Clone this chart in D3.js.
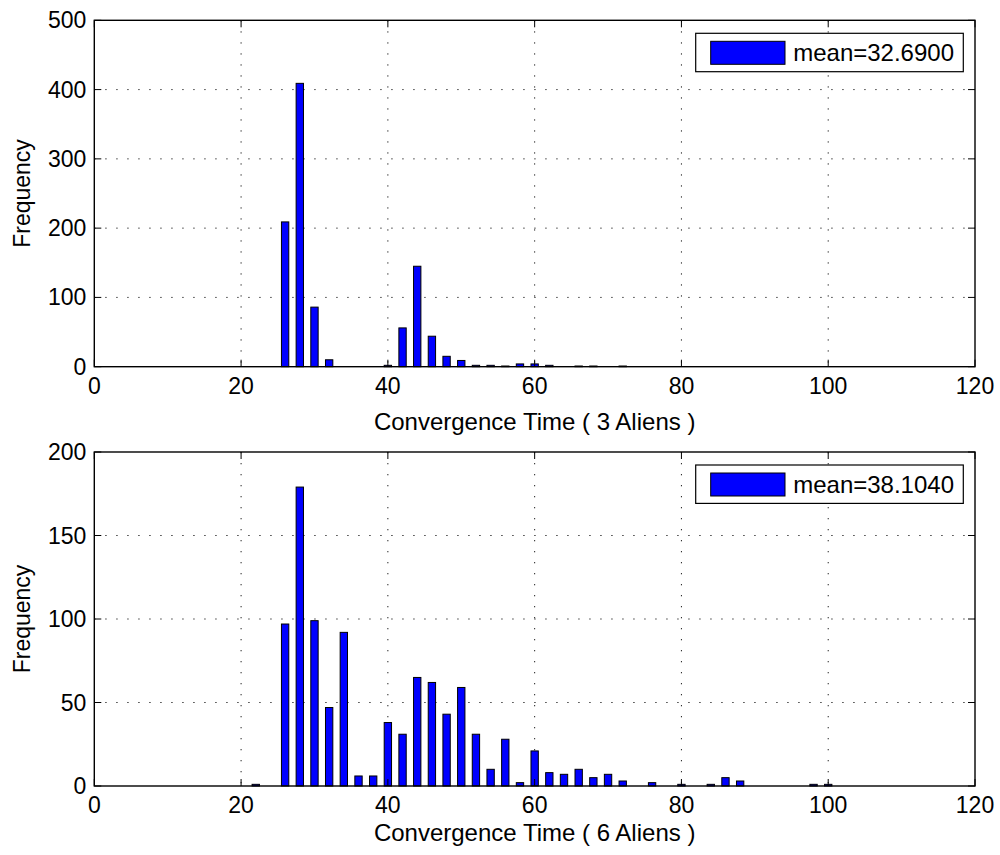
<!DOCTYPE html>
<html>
<head>
<meta charset="utf-8">
<script src="https://cdn.jsdelivr.net/npm/d3@7"></script>
<style>
    body { margin: 0; background: #fff; }
    svg { display: block; }
    text { font-family: "Liberation Sans", Arial, Helvetica, sans-serif; fill: #000; }
</style>
</head>
<body>
<div class="chart"></div>
<script>
// histogram bins (bin centre) and counts
var bins3 = [26, 28, 30, 32, 40, 42, 44, 46, 48, 50, 52, 54, 56, 58, 60, 62, 66, 68, 72];
var freq3 = [209, 409, 86, 10, 2, 56, 145, 44, 15, 9, 2, 2, 1, 4, 4, 2, 1, 1, 1];

var bins6 = [22, 26, 28, 30, 32, 34, 36, 38, 40, 42, 44, 46, 48, 50, 52, 54, 56, 58, 60, 62,
             64, 66, 68, 70, 72, 76, 80, 84, 86, 88, 98, 100];
var freq6 = [1, 97, 179, 99, 47, 92, 6, 6, 38, 31, 65, 62, 43, 59, 31, 10, 28, 2, 21, 8,
             7, 10, 5, 7, 3, 2, 1, 1, 5, 3, 1, 1];

var xTicks = [0, 20, 40, 60, 80, 100, 120];
var yTicks3 = [0, 100, 200, 300, 400, 500];
var yTicks6 = [0, 50, 100, 150, 200];

var xLabels = ["Convergence Time ( 3 Aliens )", "Convergence Time ( 6 Aliens )"];
var yLabel = "Frequency";
var legendTexts = ["mean=32.6900", "mean=38.1040"];

var svgWidth = 1000;
var svgHeight = 855;

var svg = d3.select(".chart")
    .append("svg")
    .attr("width", svgWidth)
    .attr("height", svgHeight);

// two stacked panels
var panels = [
    { top: 20.3, bottom: 366.7, bins: bins3, freq: freq3, yTicks: yTicks3, xLabel: xLabels[0], legend: legendTexts[0], labelY: 430 },
    { top: 452, bottom: 786, bins: bins6, freq: freq6, yTicks: yTicks6, xLabel: xLabels[1], legend: legendTexts[1], labelY: 841 }
];

var left = 94.3, right = 975;
var tickLen = 7;

var xScale = d3.scaleLinear()
    .domain([0, 120])
    .range([left, right]);

panels.forEach(function (p) {
    var yScale = d3.scaleLinear()
        .domain([0, d3.max(p.yTicks)])
        .range([p.bottom, p.top]);

    var g = svg.append("g");

    // dotted grid
    g.selectAll(".vgrid")
        .data(xTicks.slice(1, -1))
        .enter()
        .append("line")
        .attr("x1", d => xScale(d)).attr("x2", d => xScale(d))
        .attr("y1", p.top).attr("y2", p.bottom)
        .attr("stroke", "#222")
        .attr("stroke-width", 1)
        .attr("stroke-dasharray", "1.3,9.7");

    g.selectAll(".hgrid")
        .data(p.yTicks.slice(1, -1))
        .enter()
        .append("line")
        .attr("x1", left).attr("x2", right)
        .attr("y1", d => yScale(d)).attr("y2", d => yScale(d))
        .attr("stroke", "#222")
        .attr("stroke-width", 1)
        .attr("stroke-dasharray", "1.3,9.7");

    // bars
    g.selectAll(".bar")
        .data(p.bins.map((b, i) => ({ bin: b, n: p.freq[i] })))
        .enter()
        .append("rect")
        .attr("x", d => xScale(d.bin - 0.5))
        .attr("width", d => xScale(d.bin + 0.5) - xScale(d.bin - 0.5))
        .attr("y", d => yScale(d.n))
        .attr("height", d => yScale(0) - yScale(d.n))
        .attr("fill", "#0000ff")
        .attr("stroke", "#000")
        .attr("stroke-width", 1);

    // inward ticks on all four sides
    var ticks = g.append("g").attr("stroke", "#000").attr("stroke-width", 1);
    xTicks.forEach(function (t) {
        ticks.append("line").attr("x1", xScale(t)).attr("x2", xScale(t))
            .attr("y1", p.bottom).attr("y2", p.bottom - tickLen);
        ticks.append("line").attr("x1", xScale(t)).attr("x2", xScale(t))
            .attr("y1", p.top).attr("y2", p.top + tickLen);
    });
    p.yTicks.forEach(function (t) {
        ticks.append("line").attr("x1", left).attr("x2", left + tickLen)
            .attr("y1", yScale(t)).attr("y2", yScale(t));
        ticks.append("line").attr("x1", right).attr("x2", right - tickLen)
            .attr("y1", yScale(t)).attr("y2", yScale(t));
    });

    // axes box
    g.append("rect")
        .attr("x", left).attr("y", p.top)
        .attr("width", right - left).attr("height", p.bottom - p.top)
        .attr("fill", "none")
        .attr("stroke", "#000")
        .attr("stroke-width", 1.4);

    // tick labels
    g.selectAll(".xlab")
        .data(xTicks)
        .enter()
        .append("text")
        .attr("x", d => xScale(d))
        .attr("y", p.bottom + 27)
        .attr("text-anchor", "middle")
        .style("font-size", "23px")
        .text(d => d);

    g.selectAll(".ylab")
        .data(p.yTicks)
        .enter()
        .append("text")
        .attr("x", left - 8)
        .attr("y", d => yScale(d))
        .attr("dy", "0.35em")
        .attr("text-anchor", "end")
        .style("font-size", "23px")
        .text(d => d);

    // axis titles
    g.append("text")
        .attr("x", (left + right) / 2)
        .attr("y", p.labelY)
        .attr("text-anchor", "middle")
        .style("font-size", "24px")
        .text(p.xLabel);

    g.append("text")
        .attr("transform", `translate(22, ${(p.top + p.bottom) / 2}) rotate(-90)`)
        .attr("dy", "0.35em")
        .attr("text-anchor", "middle")
        .style("font-size", "23px")
        .text(yLabel);

    // legend
    var lg = g.append("g").attr("transform", `translate(695.7, ${p.top + 13})`);
    lg.append("rect")
        .attr("width", 267.6).attr("height", 38.4)
        .attr("fill", "#fff").attr("stroke", "#000").attr("stroke-width", 1.2);
    lg.append("rect")
        .attr("x", 15).attr("y", 8)
        .attr("width", 74.3).attr("height", 23)
        .attr("fill", "#0000ff").attr("stroke", "#000").attr("stroke-width", 1);
    lg.append("text")
        .attr("x", 97.5).attr("y", 19.5)
        .attr("dy", "0.35em")
        .style("font-size", "24px")
        .text(p.legend);
});
</script>
</body>
</html>
